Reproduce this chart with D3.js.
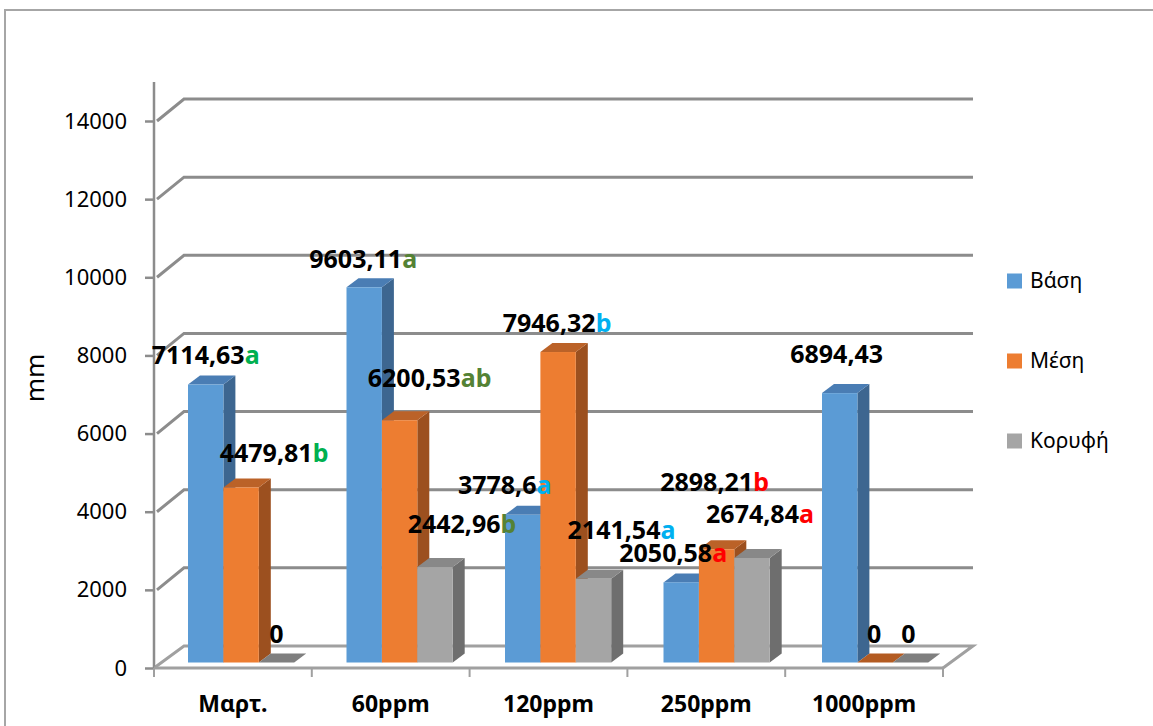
<!DOCTYPE html>
<html>
<head>
<meta charset="utf-8">
<script src="https://cdn.jsdelivr.net/npm/d3@7"></script>
<style>
  html, body { margin: 0; padding: 0; background: #fff; }
  svg { display: block; }
</style>
</head>
<body>
<svg id="chart" width="1153" height="726"></svg>
<script>
// Categories (treatments) and series (position on the plant)
const categories = ["Μαρτ.", "60ppm", "120ppm", "250ppm", "1000ppm"];
const seriesNames = ["Βάση", "Μέση", "Κορυφή"];

// Values in mm per series, in category order
const baseValues = [7114.63, 9603.11, 3778.6, 2050.58, 6894.43];
const midValues  = [4479.81, 6200.53, 7946.32, 2898.21, 0];
const topValues  = [0, 2442.96, 2141.54, 2674.84, 0];

// Significance letters shown after each value
const baseLetters = ["a", "a", "a", "a", ""];
const midLetters  = ["b", "ab", "b", "b", ""];
const topLetters  = ["", "b", "a", "a", ""];

// Letter colour per treatment group
const letterColors = ["#00b050", "#548235", "#00b0f0", "#ff0000", "#000000"];

// Value-axis ticks
const yTicks = [0, 2000, 4000, 6000, 8000, 10000, 12000, 14000];

// Hand placement of each value label relative to its bar: [dx, dy] per series x category
const labelNudge = [
  [[-6, -2], [-7, 0], [-24, -2], [-14, -1], [-9, -11]],
  [[27, -6], [24, -14], [-7, -1], [-8, -39], [-7, -1]],
  [[-6, -1], [21, -15], [22, -21], [2, -16], [-8, -1]]
];

const values = [baseValues, midValues, topValues];
const letters = [baseLetters, midLetters, topLetters];

const faceColors = [
  { front: "#5b9bd5", top: "#4a7db4", side: "#3d6690", flat: "#4a7db4" },
  { front: "#ed7d31", top: "#bb6228", side: "#9c501f", flat: "#b35b22" },
  { front: "#a5a5a5", top: "#888888", side: "#6e6e6e", flat: "#7f7f7f" }
];

const svg = d3.select("#chart");
const FONT = "'Noto Sans', 'Open Sans', sans-serif";

// Plot geometry: front floor edge and the receding depth of the walls
const left = 154, right = 943, depthX = 30, depthY = -22;
const y = d3.scaleLinear().domain([0, 14000]).range([668, 121]);
const xCat = d3.scaleBand().domain(categories).range([left, right]).padding(0);

// Bars sit a little behind the front edge
const barRange = d3.scaleBand().domain(categories).range([left, right + 3.5]).padding(0);
const barStart = 34, barW = 35.4, barDX = 12, barDY = -9, barShiftY = -5.5;
const xSeries = d3.scaleBand().domain(d3.range(3)).range([barStart, barStart + 3 * barW]).padding(0);

// Outer chart frame
svg.append("rect")
  .attr("x", 5).attr("y", 10).attr("width", 1160).attr("height", 730)
  .attr("fill", "none").attr("stroke", "#a6a6a6").attr("stroke-width", 2);

const grid = svg.append("g");
// Back-wall gridlines with their diagonal on the side wall
yTicks.forEach(v => {
  const yy = y(v);
  if (v === 0) return;
  grid.append("path")
    .attr("d", `M${left + 3},${yy} L${left + depthX},${yy + depthY} L${right + depthX},${yy + depthY}`)
    .attr("fill", "none").attr("stroke", "#8c8c8c").attr("stroke-width", 3);
});

// Floor outline
grid.append("path")
  .attr("d", `M${left},${y(0)} L${left + depthX},${y(0) + depthY} L${right + depthX},${y(0) + depthY} L${right},${y(0)}`)
  .attr("fill", "none").attr("stroke", "#a0a0a0").attr("stroke-width", 3);

// Value axis line and ticks
grid.append("line")
  .attr("x1", left).attr("x2", left).attr("y1", 82).attr("y2", y(0) + 1)
  .attr("stroke", "#8c8c8c").attr("stroke-width", 2.5);
const yAxis = d3.axisLeft(y).tickValues(yTicks).tickSize(9).tickFormat(d3.format("d"));
const yAxisG = svg.append("g").attr("transform", `translate(${left},0)`).call(yAxis);
yAxisG.select(".domain").remove();
yAxisG.selectAll(".tick line").attr("stroke", "#8c8c8c").attr("stroke-width", 2.5);
yAxisG.selectAll(".tick text")
  .attr("x", -27).attr("font-family", FONT).attr("font-size", 22).attr("fill", "#000");

// Category axis along the front floor edge
grid.append("line")
  .attr("x1", left).attr("x2", right).attr("y1", y(0)).attr("y2", y(0))
  .attr("stroke", "#a0a0a0").attr("stroke-width", 3);
const xAxis = d3.axisBottom(xCat).tickSize(0).tickPadding(0);
const xAxisG = svg.append("g").attr("transform", `translate(0,${y(0)})`).call(xAxis);
xAxisG.select(".domain").remove();
xAxisG.selectAll(".tick text")
  .attr("y", 44).attr("dy", 0)
  .attr("font-family", FONT).attr("font-size", 23).attr("font-weight", "bold").attr("fill", "#000");
// Boundary ticks between categories
categories.concat([null]).forEach((c, i) => {
  const xx = c === null ? right : xCat(c);
  svg.append("line")
    .attr("x1", xx).attr("x2", xx).attr("y1", y(0)).attr("y2", y(0) + 9)
    .attr("stroke", "#a0a0a0").attr("stroke-width", 2);
});

// Axis title
svg.append("text")
  .attr("transform", "translate(44,378) rotate(-90)")
  .attr("text-anchor", "middle")
  .attr("font-family", FONT).attr("font-size", 26).attr("fill", "#000")
  .text("mm");

// 3-D columns, drawn left to right so nearer faces overlap correctly
const bars = svg.append("g");
categories.forEach((c, ci) => {
  for (let si = 0; si < 3; si++) {
    const v = values[si][ci];
    const x0 = barRange(c) + xSeries(si);
    const x1 = x0 + barW;
    const yb = y(0) + barShiftY;
    const yt = y(v) + barShiftY;
    const col = faceColors[si];
    if (v === 0) {
      bars.append("path")
        .attr("d", `M${x0},${yb} L${x0 + barDX},${yb + barDY} L${x1 + barDX},${yb + barDY} L${x1},${yb} Z`)
        .attr("fill", col.flat);
      continue;
    }
    bars.append("path")
      .attr("d", `M${x1},${yt} L${x1 + barDX},${yt + barDY} L${x1 + barDX},${yb + barDY} L${x1},${yb} Z`)
      .attr("fill", col.side);
    bars.append("path")
      .attr("d", `M${x0},${yt} L${x0 + barDX},${yt + barDY} L${x1 + barDX},${yt + barDY} L${x1},${yt} Z`)
      .attr("fill", col.top);
    bars.append("rect")
      .attr("x", x0).attr("y", yt).attr("width", barW).attr("height", yb - yt)
      .attr("fill", col.front);
  }
});

// Value labels with coloured significance letters
const fmt = v => String(v).replace(".", ",");
const labels = svg.append("g");
categories.forEach((c, ci) => {
  for (let si = 0; si < 3; si++) {
    const v = values[si][ci];
    const x0 = barRange(c) + xSeries(si);
    const cx = x0 + barW / 2 + barDX / 2;
    const topBack = y(v) + barShiftY + barDY;
    const [ndx, ndy] = labelNudge[si][ci];
    const t = labels.append("text")
      .attr("x", cx + ndx).attr("y", topBack - 10 + ndy)
      .attr("text-anchor", "middle")
      .attr("font-family", FONT).attr("font-size", 25).attr("font-weight", "bold")
      .attr("fill", "#000");
    t.append("tspan").text(fmt(v));
    if (letters[si][ci]) {
      t.append("tspan").attr("fill", letterColors[ci]).text(letters[si][ci]);
    }
  }
});

// Legend
const legend = svg.append("g");
seriesNames.forEach((name, i) => {
  const cy = 281 + i * 80;
  legend.append("rect")
    .attr("x", 1007).attr("y", cy - 7.5).attr("width", 15).attr("height", 15)
    .attr("fill", faceColors[i].front);
  legend.append("text")
    .attr("x", 1030).attr("y", cy).attr("dy", "0.35em")
    .attr("font-family", FONT).attr("font-size", 21).attr("fill", "#000")
    .text(name);
});
</script>
</body>
</html>
